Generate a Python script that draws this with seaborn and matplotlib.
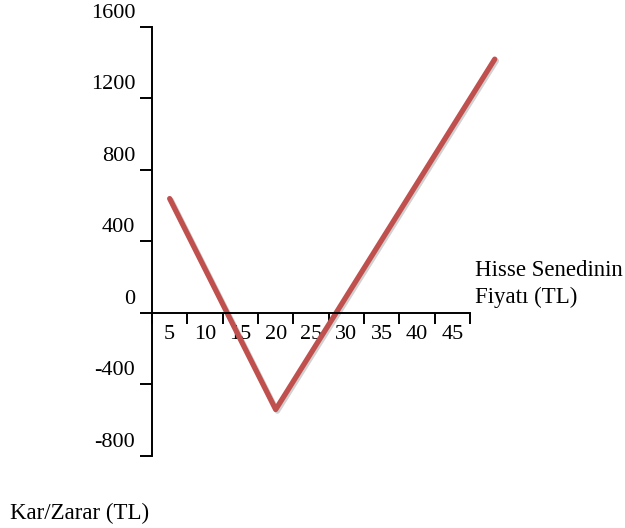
import matplotlib
matplotlib.use("Agg")
import matplotlib.pyplot as plt
import matplotlib.patheffects as pe
import matplotlib.transforms as mtransforms
import seaborn as sns
import pandas as pd

# Profit/loss of the position versus the share price
share_price = [5, 20, 51]
profit_loss = [640, -540, 1420]

x_tick_labels = [5, 10, 15, 20, 25, 30, 35, 40, 45]
y_ticks = [-800, -400, 0, 400, 800, 1200, 1600]

sns.set_theme(style="white")
plt.rcParams["font.family"] = ["Liberation Serif", "DejaVu Serif"]

df = pd.DataFrame({"price": share_price, "pl": profit_loss})

fig = plt.figure(figsize=(6.25, 5.28), dpi=100)
ax = fig.add_axes([0.2432, 0.1364, 0.5088, 0.8125])

sns.lineplot(data=df, x="price", y="pl", ax=ax, color="#C0504D",
             linewidth=3.8, clip_on=False, sort=False,
             path_effects=[pe.SimpleLineShadow(offset=(1.2, -1.2), alpha=0.2),
                           pe.Normal()])

ax.set_xlim(2.5, 47.5)
ax.set_ylim(-800, 1600)

for side in ("top", "right"):
    ax.spines[side].set_visible(False)
ax.spines["bottom"].set_position(("data", 0))
for side in ("left", "bottom"):
    ax.spines[side].set_color("black")
    ax.spines[side].set_linewidth(1.4)

# category-style axis: tick marks between labels, labels centred in each interval
ax.set_xticks([2.5 + 5 * i for i in range(10)])
ax.set_xticklabels([])
ax.set_xticks(x_tick_labels, minor=True)
ax.set_xticklabels([str(v) for v in x_tick_labels], minor=True)
ax.tick_params(axis="x", which="major", direction="out", length=8, width=1.4,
               color="black", bottom=True)
ax.tick_params(axis="x", which="minor", length=0, pad=9, labelsize=16,
               labelcolor="black", bottom=True)

ax.set_yticks(y_ticks)
ax.set_yticklabels([str(v) for v in y_ticks])
ax.tick_params(axis="y", direction="out", length=9, width=1.4, color="black",
               left=True, pad=3, labelsize=16, labelcolor="black")
lift = mtransforms.ScaledTranslation(0, 3 / 72, fig.dpi_scale_trans)
for lab in ax.get_yticklabels():
    lab.set_verticalalignment("bottom")
    lab.set_transform(lab.get_transform() + lift)

ax.set_xlabel("")
ax.set_ylabel("")
ax.grid(False)

fig.text(475 / 625, 1 - 270 / 528, "Hisse Senedinin", fontsize=16.5,
         va="center", ha="left", color="black")
fig.text(475 / 625, 1 - 297 / 528, "Fiyatı (TL)", fontsize=16.5,
         va="center", ha="left", color="black")
fig.text(10 / 625, 1 - 513 / 528, "Kar/Zarar (TL)", fontsize=16.5,
         va="center", ha="left", color="black")

fig.savefig("out.png", dpi=100)
